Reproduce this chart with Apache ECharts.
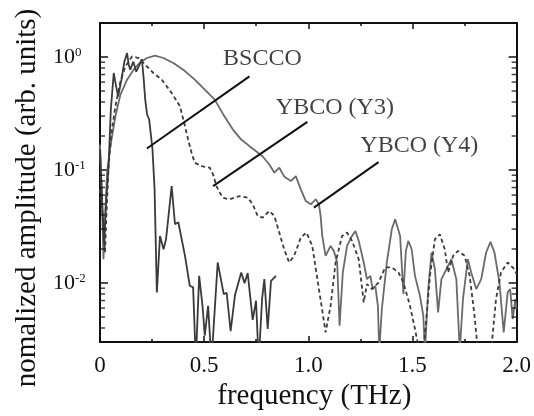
<!DOCTYPE html>
<html><head><meta charset="utf-8">
<script src="https://cdn.jsdelivr.net/npm/echarts@6/dist/echarts.min.js"></script>
<style>html,body{margin:0;padding:0;background:#fff}#c{width:534px;height:416px}</style>
</head><body><div id="c"></div>
<script>
// ---- data (frequency in THz, normalized amplitude) ----
const bsccoFreq = [0.000,0.010,0.020,0.030,0.041,0.052,0.066,0.076,0.087,0.103,0.117,0.130,0.138,0.145,0.160,0.174,0.188,0.201,0.210,0.217,0.226,0.236,0.252,0.262,0.273,0.288,0.305,0.317,0.344,0.360,0.376,0.408,0.431,0.447,0.460,0.476,0.492,0.503,0.519,0.535,0.565,0.594,0.608,0.627,0.648,0.678,0.694,0.709,0.733,0.749,0.762,0.778,0.789,0.805,0.821,0.845];
const bsccoAmp = [0.152,0.0551,0.0220,0.0551,0.1055,0.343,0.722,0.569,0.449,0.630,0.909,1.085,0.855,0.773,0.909,0.742,0.838,0.960,0.630,0.420,0.310,0.280,0.152,0.0674,0.00826,0.0261,0.0199,0.0244,0.0721,0.0331,0.0345,0.0174,0.00945,0.00915,0.002,0.01157,0.00629,0.00342,0.00629,0.002,0.0152,0.00798,0.0082,0.00376,0.00782,0.0124,0.00998,0.01224,0.00471,0.00697,0.002,0.00721,0.01082,0.00392,0.01046,0.01157];

const y3Freq = [0,0.012,0.024,0.031,0.042,0.057,0.074,0.098,0.122,0.1535,0.185,0.217,0.2565,0.2965,0.344,0.384,0.408,0.423,0.4395,0.455,0.487,0.527,0.5425,0.559,0.5745,0.590,0.622,0.670,0.7094,0.733,0.757,0.781,0.813,0.837,0.8605,0.884,0.908,0.932,0.964,0.991,1.019,1.051,1.083,1.107,1.131,1.162,1.186,1.210,1.242,1.266,1.2815,1.305,1.337,1.369,1.401,1.4327,1.4565,1.488,1.512,1.533,1.552,1.5676,1.584,1.6076,1.6315,1.655,1.671,1.695,1.7187,1.7507,1.7745,1.798,1.814,1.8775,1.901,1.925,1.957,1.989,2.0];
const y3Amp = [0.0674,0.0406,0.01874,0.0406,0.116,0.228,0.366,0.609,0.826,1.012,0.980,0.855,0.722,0.630,0.481,0.366,0.244,0.186,0.142,0.116,0.1083,0.1048,0.0915,0.0721,0.0634,0.0569,0.055,0.0588,0.0569,0.0497,0.0392,0.0379,0.0434,0.0392,0.02797,0.0199,0.0152,0.0174,0.02526,0.02797,0.0213,0.00884,0.00366,0.00629,0.0152,0.0261,0.02797,0.0236,0.01625,0.00674,0.00978,0.00884,0.0101,0.01373,0.01373,0.0124,0.0101,0.00629,0.00392,0.0025,0.0025,0.00513,0.01157,0.0244,0.0270,0.0199,0.0124,0.0174,0.01924,0.0174,0.01157,0.00513,0.0025,0.0025,0.00721,0.0124,0.0152,0.01327,0.01199];

const y4Freq = [0,0.0095,0.0167,0.026,0.034,0.050,0.074,0.098,0.130,0.161,0.193,0.225,0.2646,0.304,0.352,0.3995,0.455,0.503,0.5507,0.598,0.638,0.678,0.7175,0.751,0.781,0.813,0.837,0.8605,0.884,0.916,0.940,0.964,0.988,1.0117,1.0355,1.051,1.059,1.067,1.083,1.107,1.1228,1.1385,1.150,1.1657,1.186,1.210,1.226,1.242,1.266,1.2815,1.298,1.3087,1.3216,1.334,1.3406,1.353,1.377,1.4007,1.417,1.4407,1.4565,1.468,1.480,1.496,1.512,1.536,1.552,1.560,1.5757,1.5914,1.6076,1.623,1.639,1.663,1.6867,1.7106,1.727,1.7425,1.766,1.782,1.806,1.830,1.8536,1.8746,1.8937,1.9175,1.938,1.957,1.969,1.981,1.994,2.0];
const y4Amp = [0.168,0.0551,0.01625,0.0449,0.0947,0.1626,0.299,0.465,0.630,0.773,0.896,0.980,1.027,0.980,0.885,0.773,0.630,0.5145,0.420,0.297,0.228,0.186,0.1626,0.146,0.1318,0.112,0.0947,0.1048,0.0878,0.0798,0.0883,0.0674,0.0531,0.0497,0.0551,0.0497,0.0392,0.0261,0.0174,0.0213,0.01924,0.0152,0.00419,0.0124,0.0213,0.0261,0.0289,0.0236,0.0152,0.01082,0.01157,0.00884,0.00945,0.00629,0.0025,0.00588,0.0152,0.0299,0.0366,0.0261,0.008,0.0191,0.0236,0.0199,0.01157,0.0077,0.00513,0.0025,0.00884,0.01862,0.01327,0.0055,0.01082,0.01327,0.01625,0.01082,0.0025,0.00721,0.01625,0.0124,0.00884,0.01082,0.01862,0.0231,0.01862,0.0101,0.00366,0.00826,0.00884,0.0048,0.00721,0.00588];

// annotation labels and leader lines (data coordinates)
const labelNames = ['BSCCO', 'YBCO (Y3)', 'YBCO (Y4)'];
const labelFreq = [0.7795, 1.1275, 1.533];
const labelAmp = [0.976, 0.357, 0.165];
const leaderStart = [[0.225, 0.155], [0.5426, 0.0721], [1.027, 0.0465]];
const leaderEnd = [[0.7175, 0.674], [0.9955, 0.267], [1.337, 0.1174]];

// axis ticks
const xMin = 0, xMax = 2, xInterval = 0.5;
const yMin = 0.003, yMax = 2;
const yMinorTicks = [0.003,0.004,0.005,0.006,0.007,0.008,0.009,0.02,0.03,0.04,0.05,0.06,0.07,0.08,0.09,0.2,0.3,0.4,0.5,0.6,0.7,0.8,0.9];

// ---- chart ----
const serif = '"Liberation Serif","Times New Roman","DejaVu Serif",serif';
const ink = '#111';
const textInk = '#111';
const frameLine = {show: true, onZero: false, lineStyle: {color: ink, width: 2}};
const pairs = (xs, ys) => xs.map((x, i) => [x, ys[i]]);
const yFmt = v => {
  const e = Math.log10(v), r = Math.round(e);
  if (Math.abs(e - r) > 1e-6) return '';
  return '{b|10}{s|' + r + '}';
};

const xAxisBase = {
  type: 'value', min: xMin, max: xMax, interval: xInterval,
  axisLine: frameLine,
  axisTick: {show: true, inside: true, length: 6, lineStyle: {color: ink, width: 1.5}},
  minorTick: {show: true, splitNumber: 2, length: 3, lineStyle: {color: ink, width: 1.5}},
  splitLine: {show: false}, minorSplitLine: {show: false}
};
const yAxisBase = {
  type: 'log', logBase: 10, min: yMin, max: yMax,
  axisLine: frameLine,
  axisTick: {show: true, inside: true, length: 8, lineStyle: {color: ink, width: 1.5}},
  splitLine: {show: false}
};

const lineSeries = (name, xs, ys, color, dash) => ({
  name, type: 'line', data: pairs(xs, ys), symbol: 'none', smooth: false,
  lineStyle: {color, width: 1.8, type: dash ? [4, 3] : 'solid'}, z: 3, clip: true
});

const series = [
  lineSeries('YBCO (Y4)', y4Freq, y4Amp, '#6a6a6a', false),
  lineSeries('YBCO (Y3)', y3Freq, y3Amp, '#3c3c3c', true),
  lineSeries('BSCCO', bsccoFreq, bsccoAmp, '#3a3a3a', false)
];
leaderStart.forEach((s, i) => series.push({
  type: 'line', data: [s, leaderEnd[i]], symbol: 'none', clip: false, z: 5,
  lineStyle: {color: '#111', width: 2}
}));
series.push({
  type: 'scatter', symbolSize: 0, clip: false, z: 6, silent: true,
  data: labelNames.map((n, i) => ({name: n, value: [labelFreq[i], labelAmp[i]]})),
  label: {show: true, position: 'inside', formatter: '{b}', fontFamily: serif, fontSize: 24, color: textInk}
});
series.push({
  type: 'scatter', symbol: 'rect', symbolSize: [5, 1.5], symbolOffset: [2.5, 0], clip: false, silent: true, z: 7,
  itemStyle: {color: ink}, data: yMinorTicks.map(v => [xMin, v])
});
series.push({
  type: 'scatter', symbol: 'rect', symbolSize: [5, 1.5], symbolOffset: [-2.5, 0], clip: false, silent: true, z: 7,
  itemStyle: {color: ink}, data: yMinorTicks.map(v => [xMax, v])
});

const chart = echarts.init(document.getElementById('c'), null, {renderer: 'canvas'});
chart.setOption({
  animation: false,
  backgroundColor: '#fff',
  grid: {left: 100, right: 15, top: 23, bottom: 72, containLabel: false},
  xAxis: [
    Object.assign({}, xAxisBase, {
      position: 'bottom',
      axisLabel: {margin: 12, fontFamily: serif, fontSize: 23, color: textInk,
        formatter: v => v === 0 ? '0' : v.toFixed(1)},
      name: 'frequency (THz)', nameLocation: 'middle', nameGap: 36,
      nameTextStyle: {fontFamily: serif, fontSize: 29, color: textInk, padding: [0, 0, 0, 12]}
    }),
    Object.assign({}, xAxisBase, {position: 'top', axisLabel: {show: false}})
  ],
  yAxis: [
    Object.assign({}, yAxisBase, {
      position: 'left',
      axisLabel: {formatter: yFmt, align: 'left', margin: 47, showMinLabel: false, showMaxLabel: false,
        rich: {
          b: {fontFamily: serif, fontSize: 22, color: textInk},
          s: {fontFamily: serif, fontSize: 13, color: textInk, verticalAlign: 'top'}
        }},
      name: 'nomalized amplitude (arb. units)', nameLocation: 'middle', nameGap: 58, nameRotate: 90,
      nameTextStyle: {fontFamily: serif, fontSize: 29, color: textInk, padding: [0, 31, 0, 0]}
    }),
    Object.assign({}, yAxisBase, {position: 'right', axisLabel: {show: false}})
  ],
  series
});
</script>
</body></html>
